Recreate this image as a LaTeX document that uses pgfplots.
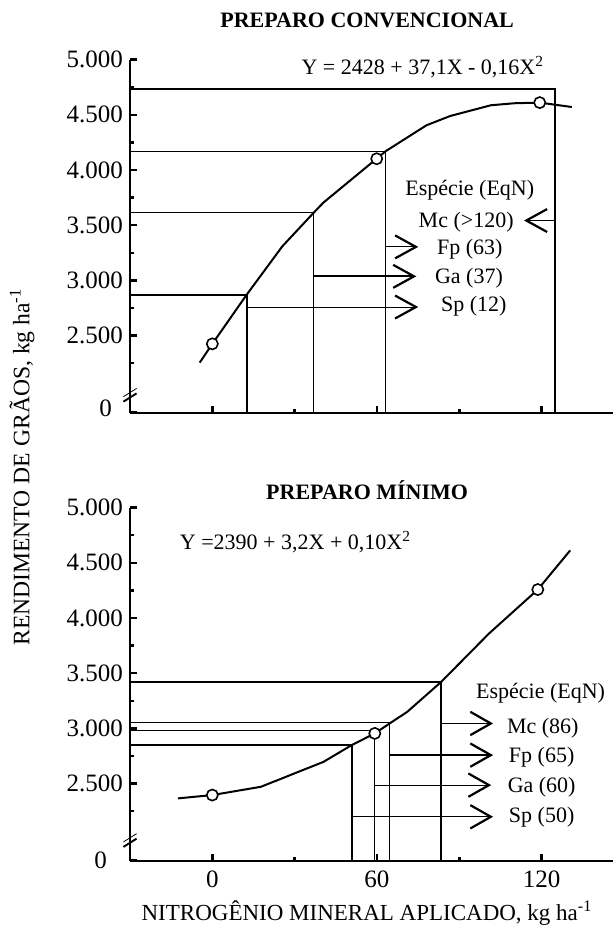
\documentclass[border=0pt]{standalone}
\usepackage{fontspec}
\setmainfont{Liberation Serif}
\usepackage{pgfplots}
\pgfplotsset{compat=1.18}
\newcommand{\tickfont}{\fontsize{12.5}{14}\selectfont}
\newcommand{\annfont}{\fontsize{11}{13}\selectfont}
\newcommand{\titfont}{\bfseries\fontsize{11}{13}\selectfont}
\pgfplotsset{myax/.style={
  scale only axis, width=241.5pt, height=176.5pt,
  xmin=-30, xmax=146, ymin=1800, ymax=5000,
  axis lines=left, axis line style={-, line width=1pt},
  tick align=inside, major tick length=3.5pt, minor tick length=2pt,
  every major tick/.append style={black, line width=1.2pt},
  every minor tick/.append style={black, line width=1.2pt},
  xtick={0,60,120}, minor xtick={30,90},
  ytick={2500,3000,3500,4000,4500,5000},
  yticklabels={2.500,3.000,3.500,4.000,4.500,5.000},
  minor ytick={2250,2750,3250,3750,4250,4750},
  extra y ticks={1800}, extra y tick labels={0},
  tick label style={font=\tickfont},
  /pgf/number format/assume math mode=true,
  clip=false,
  cycle list={{black, mark=none, line width=0.95pt}},
}}
\begin{document}
\begin{tikzpicture}
\useasboundingbox (0,0) rectangle (306.5pt,463pt);
% ---------------- top panel
\begin{axis}[myax, at={(65pt,256.65pt)}, anchor=south west,
  xticklabels={,,},
  extra y tick style={tick label style={xshift=-5.5pt, yshift=2pt}}]
\addplot[black, line width=1pt] coordinates {(-4.6,2254) (0,2424) (12.5,2869) (25.5,3308) (36.9,3612) (40.5,3705) (63.2,4171) (78,4405) (86.6,4489) (101.5,4587) (110,4605) (119.3,4611) (131,4571)};
\addplot[only marks, mark=*, mark size=2.8pt, mark options={fill=white, draw=black, line width=0.8pt}] coordinates {(0,2424) (59.9,4102) (119.3,4611)};
% reference lines
\addplot coordinates {(-30,4738) (124.8,4738) (124.8,1800)};
\addplot coordinates {(-30,4171) (63.2,4171) (63.2,1800)};
\addplot coordinates {(-30,3612) (36.9,3612) (36.9,1800)};
\addplot coordinates {(-30,2869) (12.5,2869) (12.5,1800)};
% arrows
\addplot coordinates {(63.2,3303) (74.2,3303)};
\addplot[black, line width=1.1pt] coordinates {(66.6,3407) (74.2,3303) (66.6,3199)};
\addplot coordinates {(36.9,3036) (73.5,3036)};
\addplot[black, line width=1.1pt] coordinates {(65.9,3140) (73.5,3036) (65.9,2932)};
\addplot coordinates {(12.5,2758) (74.2,2758)};
\addplot[black, line width=1.1pt] coordinates {(66.6,2862) (74.2,2758) (66.6,2654)};
\addplot coordinates {(124.8,3542) (114.4,3542)};
\addplot[black, line width=1.1pt] coordinates {(122,3646) (114.4,3542) (122,3438)};
% axis break
\addplot coordinates {(-32.4,1900) (-27.6,1975)};
\addplot coordinates {(-32.4,1945) (-27.6,2020)};
% texts
\node[font=\titfont] at (axis cs:56.4,5353) {PREPARO CONVENCIONAL};
\node[font=\annfont] at (axis cs:76.7,4929) {Y = 2428 + 37,1X - 0,16X\textsuperscript{2}};
\node[font=\annfont] at (axis cs:93.8,3817) {Espécie (EqN)};
\node[font=\annfont] at (axis cs:92.5,3526) {Mc (>120)};
\node[font=\annfont] at (axis cs:93.8,3278) {Fp (63)};
\node[font=\annfont] at (axis cs:93.5,3021) {Ga (37)};
\node[font=\annfont] at (axis cs:95.3,2763) {Sp (12)};
\end{axis}
% ---------------- bottom panel
\begin{axis}[myax, at={(65pt,32.65pt)}, anchor=south west,
  xticklabels={0,60,120}, xticklabel style={yshift=-1.5pt},
  extra y tick style={tick label style={xshift=-8pt}}]
\addplot[black, line width=1pt] coordinates {(-12.5,2365) (0,2395) (17.7,2470) (40.5,2696) (50.8,2848) (59.2,2954) (64.6,3044) (71,3149) (83.4,3421) (100.8,3859) (118.6,4258) (130.4,4613)};
\addplot[only marks, mark=*, mark size=2.8pt, mark options={fill=white, draw=black, line width=0.8pt}] coordinates {(0,2395) (59.2,2954) (118.6,4258)};
% reference lines
\addplot coordinates {(-30,3424) (83.4,3424) (83.4,1800)};
\addplot coordinates {(-30,3050) (64.6,3050) (64.6,1800)};
\addplot coordinates {(-30,2977) (59,2977) (59,1800)};
\addplot coordinates {(-30,2848) (50.8,2848) (50.8,1800)};
% arrows
\addplot coordinates {(83.4,3044) (101.5,3044)};
\addplot[black, line width=1.1pt] coordinates {(94,3150) (101.5,3044) (94,2938)};
\addplot coordinates {(64.6,2757) (101.5,2757)};
\addplot[black, line width=1.1pt] coordinates {(94,2863) (101.5,2757) (94,2651)};
\addplot coordinates {(59,2485) (100.8,2485)};
\addplot[black, line width=1.1pt] coordinates {(93.3,2591) (100.8,2485) (93.3,2379)};
\addplot coordinates {(50.8,2198) (101.5,2198)};
\addplot[black, line width=1.1pt] coordinates {(94,2304) (101.5,2198) (94,2092)};
% axis break
\addplot coordinates {(-32.4,1925) (-27.6,2000)};
\addplot coordinates {(-32.4,1970) (-27.6,2045)};
% texts
\node[font=\titfont] at (axis cs:56.4,5157) {PREPARO MÍNIMO};
\node[font=\annfont] at (axis cs:30.3,4689) {Y =2390 + 3,2X + 0,10X\textsuperscript{2}};
\node[font=\annfont] at (axis cs:119.6,3316) {Espécie (EqN)};
\node[font=\annfont] at (axis cs:120.4,2999) {Mc (86)};
\node[font=\annfont] at (axis cs:120,2742) {Fp (65)};
\node[font=\annfont] at (axis cs:120,2470) {Ga (60)};
\node[font=\annfont] at (axis cs:120,2198) {Sp (50)};
\end{axis}
% axis labels
\node[rotate=90, font=\fontsize{11.8}{14}\selectfont] at (11pt,229.5pt) {RENDIMENTO DE GRÃOS, kg ha\textsuperscript{-1}};
\node[font=\fontsize{11.5}{14}\selectfont] at (183.5pt,6.65pt) {NITROGÊNIO MINERAL APLICADO, kg ha\textsuperscript{-1}};
\end{tikzpicture}
\end{document}
